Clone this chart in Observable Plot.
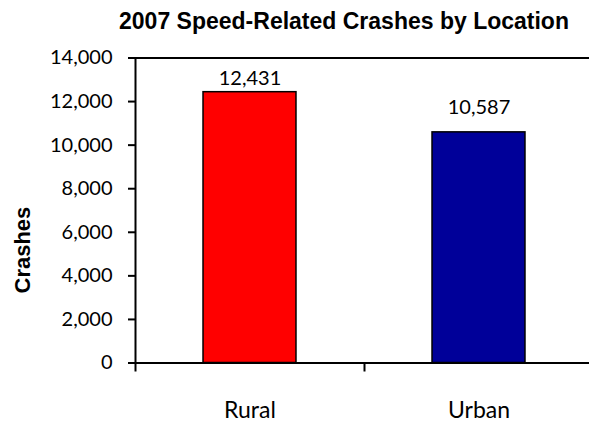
<!DOCTYPE html>
<html>
<head>
<meta charset="utf-8">
<script src="https://cdn.jsdelivr.net/npm/d3@7"></script>
<script src="https://cdn.jsdelivr.net/npm/@observablehq/plot@0.6"></script>
<style>
  html, body { margin: 0; padding: 0; background: white; }
  #wrap { width: 589px; height: 426px; overflow: hidden; position: relative; }
  #title { height: 40px; box-sizing: border-box; padding-top: 3px; margin-left: 99px; width: 490px; text-align: center;
           font: bold 23px "Liberation Sans", Arial, sans-serif; line-height: 37px; color: #000; white-space: nowrap; }
</style>
</head>
<body>
<div id="wrap">
  <div id="title">2007 Speed-Related Crashes by Location</div>
  <div id="chart"></div>
</div>
<script>
const categories = ["Rural", "Urban"];
const crashes = [12431, 10587];
const yTicks = [0, 2000, 4000, 6000, 8000, 10000, 12000, 14000];
const barColors = ["#FF0000", "#000099"];
const yLabel = "Crashes";

const data = categories.map((c, i) => ({location: c, crashes: crashes[i]}));

const W = 589, H = 386, mL = 135, mR = -4, mT = 17.5, mB = 63.5;
const step = (W - mL - mR) / categories.length;
const fmt = d3.format(",");

const chart = Plot.plot({
  width: W,
  height: H,
  marginLeft: mL,
  marginRight: mR,
  marginTop: mT,
  marginBottom: mB,
  style: {fontFamily: "Lato, sans-serif", color: "#000", background: "white", overflow: "hidden"},
  x: {domain: categories, padding: 0, axis: null},
  y: {domain: [0, 14000], axis: null},
  color: {domain: categories, range: barColors},
  marks: [
    Plot.barY(data, {x: "location", y: "crashes", fill: "location", stroke: "black", strokeWidth: 1.5,
                     insetLeft: step * 0.297, insetRight: step * 0.297}),
    Plot.frame({stroke: "black", strokeWidth: 2}),
    Plot.axisY(yTicks, {tickSize: 7, tickPadding: 16, tickFormat: fmt, fontSize: 20, strokeWidth: 2, label: null}),
    Plot.axisX(categories, {tickSize: 9, dx: -step / 2, tickFormat: () => "", strokeWidth: 2, label: null}),
    Plot.axisX(categories, {tickSize: 0, tickPadding: 39, fontSize: 23, label: null}),
    Plot.text(data.filter(d => d.location === "Rural"), {x: "location", y: "crashes", text: d => fmt(d.crashes), dy: -13.5, fontSize: 20}),
    Plot.text(data.filter(d => d.location === "Urban"), {x: "location", y: "crashes", text: d => fmt(d.crashes), dy: -25, fontSize: 20}),
    Plot.text([yLabel], {frameAnchor: "left", text: d => d, rotate: -90, dx: 22 - mL, dy: 83,
                         fontFamily: "Liberation Sans, Arial, sans-serif", fontWeight: "bold", fontSize: 22})
  ]
});
document.getElementById("chart").appendChild(chart);
</script>
</body>
</html>
